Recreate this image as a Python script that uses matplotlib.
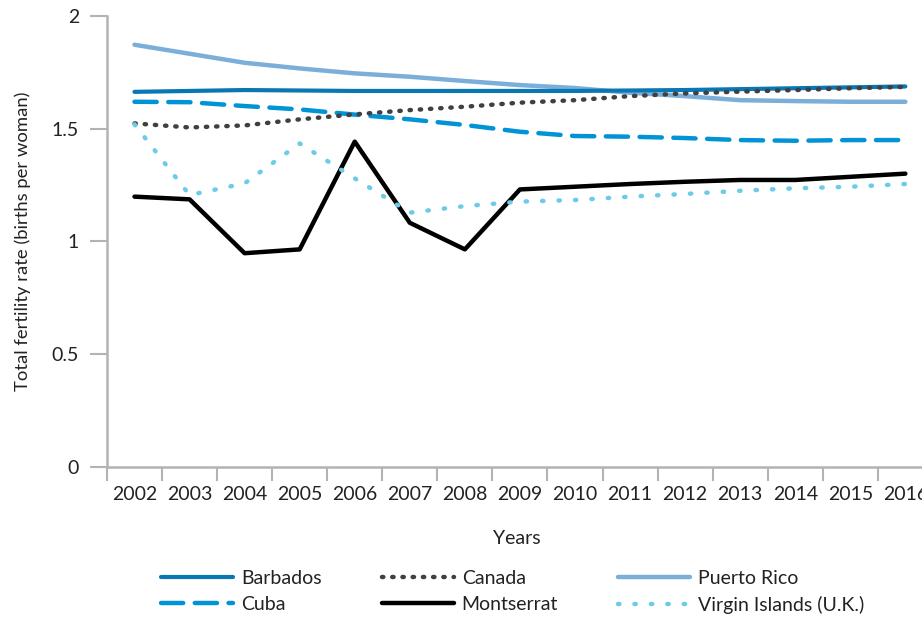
import matplotlib.pyplot as plt
import numpy as np

plt.rcParams['font.family'] = ['Lato', 'DejaVu Sans']

years = list(range(2002, 2017))

barbados = [1.664, 1.668, 1.672, 1.670, 1.668, 1.668, 1.668, 1.668, 1.668,
            1.670, 1.672, 1.676, 1.680, 1.684, 1.688]
canada = [1.524, 1.506, 1.515, 1.542, 1.564, 1.583, 1.598, 1.616, 1.627,
          1.645, 1.657, 1.665, 1.672, 1.680, 1.686]
puerto_rico = [1.873, 1.833, 1.793, 1.768, 1.746, 1.731, 1.712, 1.694, 1.681,
               1.660, 1.645, 1.627, 1.623, 1.620, 1.620]
cuba = [1.620, 1.618, 1.601, 1.586, 1.563, 1.542, 1.517, 1.487, 1.468,
        1.465, 1.459, 1.450, 1.447, 1.450, 1.450]
montserrat = [1.199, 1.187, 0.948, 0.965, 1.443, 1.083, 0.965, 1.231, 1.243,
              1.255, 1.265, 1.273, 1.273, 1.287, 1.301]
virgin_islands = [1.52, 1.206, 1.258, 1.435, 1.280, 1.128, 1.157, 1.177, 1.184,
                  1.199, 1.211, 1.225, 1.236, 1.243, 1.255]

fs = 14
fig = plt.figure(figsize=(9.22, 6.2), dpi=100)
ax = fig.add_axes([0.116, 0.247, 0.9, 0.727])

ax.plot(years, puerto_rico, color='#7bafd9', lw=3.2, solid_capstyle='round', label='Puerto Rico')
ax.plot(years, barbados, color='#0a77b5', lw=3.0, solid_capstyle='round', label='Barbados')
ax.plot(years, cuba, color='#0093d6', lw=3.2, ls=(0, (5, 2.6)), dash_capstyle='round', label='Cuba')
ax.plot(years, canada, color='#404040', lw=3.2, ls=(0, (0.3, 2.0)), dash_capstyle='round', label='Canada')
ax.plot(years, montserrat, color='black', lw=3.2, solid_capstyle='round', label='Montserrat')
ax.plot(years, virgin_islands, color='#6ccbe8', lw=3.2, ls=(0, (0.3, 3.4)), dash_capstyle='round',
        label='Virgin Islands (U.K.)')

ax.set_xlim(2001.57, 2016.57)
ax.set_ylim(0, 2)

ax.set_xticks(years)
ax.set_xticklabels([str(y) for y in years])
ax.set_xticks(np.arange(2001.5, 2017, 1), minor=True)
ax.tick_params(axis='x', which='major', length=0, pad=14, labelsize=fs, colors='#222222')
ax.tick_params(axis='x', which='minor', length=10, width=1.5, color='#b3b3b3')

ax.set_yticks([0, 0.5, 1, 1.5, 2])
ax.set_yticklabels(['0', '0.5', '1', '1.5', '2'])
ax.tick_params(axis='y', length=12, width=1.5, color='#b3b3b3', labelsize=fs,
               pad=8, labelcolor='#222222')

for s in ['top', 'right']:
    ax.spines[s].set_visible(False)
for s in ['left', 'bottom']:
    ax.spines[s].set_color('#b3b3b3')
    ax.spines[s].set_linewidth(1.8)

ax.set_xlabel('Years', fontsize=fs, color='#222222')
ax.xaxis.set_label_coords(0.494, -0.14)
ax.set_ylabel('Total fertility rate (births per woman)', fontsize=13.3, color='#222222')
ax.yaxis.set_label_coords(-0.092, 0.5)

handles, labels = ax.get_legend_handles_labels()
order = ['Barbados', 'Cuba', 'Canada', 'Montserrat', 'Puerto Rico', 'Virgin Islands (U.K.)']
hmap = dict(zip(labels, handles))
fig.legend([hmap[k] for k in order], order, loc='lower left', bbox_to_anchor=(0.156, -0.018),
           ncol=3, frameon=False, fontsize=fs, handlelength=3.7, handletextpad=0.4,
           columnspacing=3.1, labelspacing=0.45, labelcolor='#222222')

fig.savefig('out.png', dpi=100)
